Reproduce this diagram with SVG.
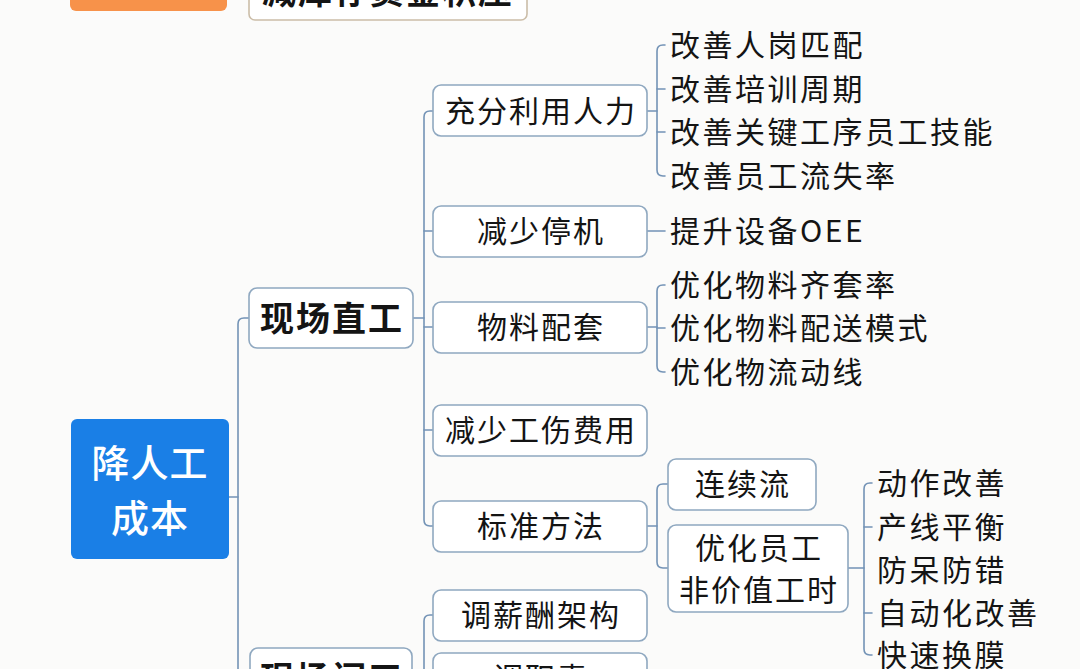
<svg xmlns="http://www.w3.org/2000/svg" width="1080" height="669" viewBox="0 0 1080 669">
<style>
.bg{fill:#fbfbfa}
.box{fill:#ffffff;stroke:#8fa8c0;stroke-width:1.6}
.c{fill:none;stroke:#7393b6;stroke-width:1.6;stroke-linecap:round}
.t{font-family:"Noto Sans CJK SC","Noto Sans",sans-serif;fill:#141414}
.l1{font-size:34px;font-weight:700;text-anchor:middle;letter-spacing:2px}
.l2{font-size:30px;text-anchor:middle;letter-spacing:2px}
.lf{font-size:30px;letter-spacing:2.5px}
.root{font-family:"Noto Sans CJK SC","Noto Sans",sans-serif;fill:#ffffff;font-size:38px;font-weight:500;text-anchor:middle;letter-spacing:1px}
</style>
<rect class="bg" x="0" y="0" width="1080" height="669"/>

<g id="top-tags">
<rect x="70" y="-40" width="157" height="51" rx="6" fill="#f7924a"/>
<rect x="249" y="-30" width="278" height="50" rx="6" fill="#ffffff" stroke="#cbbda8" stroke-width="1.6"/>
<text class="t" x="388" y="4" font-size="34" font-weight="700" text-anchor="middle" letter-spacing="2">减库存资金积压</text>
</g>

<g id="connectors">
<path class="c" d="M229 497 H238"/>
<path class="c" d="M249 318 H244 Q238 318 238 324 V680"/>
<path class="c" d="M238 678 H250"/>
<path class="c" d="M413 318 H424"/>
<path class="c" d="M433 111 H430 Q424 111 424 117 V520 Q424 526 430 526 H433"/>
<path class="c" d="M424 231 H433 M424 327 H433 M424 430 H433"/>
<path class="c" d="M412 678 H424"/>
<path class="c" d="M433 615 H430 Q424 615 424 621 V680"/>
<path class="c" d="M424 678 H433"/>
<path class="c" d="M647 111 H657"/>
<path class="c" d="M665 45 H663 Q657 45 657 51 V170 Q657 176 663 176 H665"/>
<path class="c" d="M657 89 H665 M657 132 H665"/>
<path class="c" d="M647 231 H665"/>
<path class="c" d="M647 327 H657"/>
<path class="c" d="M665 285 H663 Q657 285 657 291 V366 Q657 372 663 372 H665"/>
<path class="c" d="M657 328 H665"/>
<path class="c" d="M647 526 H657"/>
<path class="c" d="M668 484 H663 Q657 484 657 490 V562 Q657 568 663 568 H668"/>
<path class="c" d="M848 568 H864"/>
<path class="c" d="M872 483 H870 Q864 483 864 489 V649 Q864 655 870 655 H872"/>
<path class="c" d="M864 527 H872 M864 613 H872"/>
</g>

<g id="root">
<rect x="71" y="419" width="158" height="140" rx="6" fill="#1a7fe6"/>
<text class="root" x="150" y="477">降人工</text>
<text class="root" x="150" y="532">成本</text>
</g>

<g id="n-zhigong">
<rect class="box" x="249" y="288" width="164" height="60" rx="8"/>
<text class="t l1" x="332" y="331">现场直工</text>
</g>
<g id="n-jiangong">
<rect class="box" x="250" y="648" width="162" height="60" rx="8"/>
<text class="t l1" x="332" y="691">现场间工</text>
</g>

<g id="n-chongfen">
<rect class="box" x="433" y="85" width="214" height="51" rx="8"/>
<text class="t l2" x="541" y="122">充分利用人力</text>
</g>
<g id="n-tingji">
<rect class="box" x="433" y="206" width="214" height="51" rx="8"/>
<text class="t l2" x="541" y="242">减少停机</text>
</g>
<g id="n-wuliao">
<rect class="box" x="433" y="302" width="214" height="51" rx="8"/>
<text class="t l2" x="541" y="338">物料配套</text>
</g>
<g id="n-gongshang">
<rect class="box" x="433" y="405" width="214" height="51" rx="8"/>
<text class="t l2" x="541" y="441">减少工伤费用</text>
</g>
<g id="n-biaozhun">
<rect class="box" x="433" y="501" width="214" height="51" rx="8"/>
<text class="t l2" x="541" y="537">标准方法</text>
</g>
<g id="n-xinchou">
<rect class="box" x="433" y="590" width="214" height="51" rx="8"/>
<text class="t l2" x="541" y="626">调薪酬架构</text>
</g>
<g id="n-zhize">
<rect class="box" x="433" y="653" width="214" height="51" rx="8"/>
<text class="t l2" x="541" y="689">调职责</text>
</g>

<g id="n-lianxu">
<rect class="box" x="668" y="459" width="148" height="51" rx="8"/>
<text class="t l2" x="743" y="495">连续流</text>
</g>
<g id="n-feijiazhi">
<rect class="box" x="668" y="525" width="180" height="87" rx="8"/>
<text class="t l2" x="759" y="559">优化员工</text>
<text class="t l2" x="759" y="601">非价值工时</text>
</g>

<g id="leaves">
<text class="t lf" x="670" y="56">改善人岗匹配</text>
<text class="t lf" x="670" y="100">改善培训周期</text>
<text class="t lf" x="670" y="143">改善关键工序员工技能</text>
<text class="t lf" x="670" y="187">改善员工流失率</text>
<text class="t lf" x="670" y="242">提升设备OEE</text>
<text class="t lf" x="670" y="296">优化物料齐套率</text>
<text class="t lf" x="670" y="339">优化物料配送模式</text>
<text class="t lf" x="670" y="383">优化物流动线</text>
<text class="t lf" x="877" y="494">动作改善</text>
<text class="t lf" x="877" y="538">产线平衡</text>
<text class="t lf" x="877" y="581">防呆防错</text>
<text class="t lf" x="877" y="624">自动化改善</text>
<text class="t lf" x="877" y="666">快速换膜</text>
</g>
</svg>
